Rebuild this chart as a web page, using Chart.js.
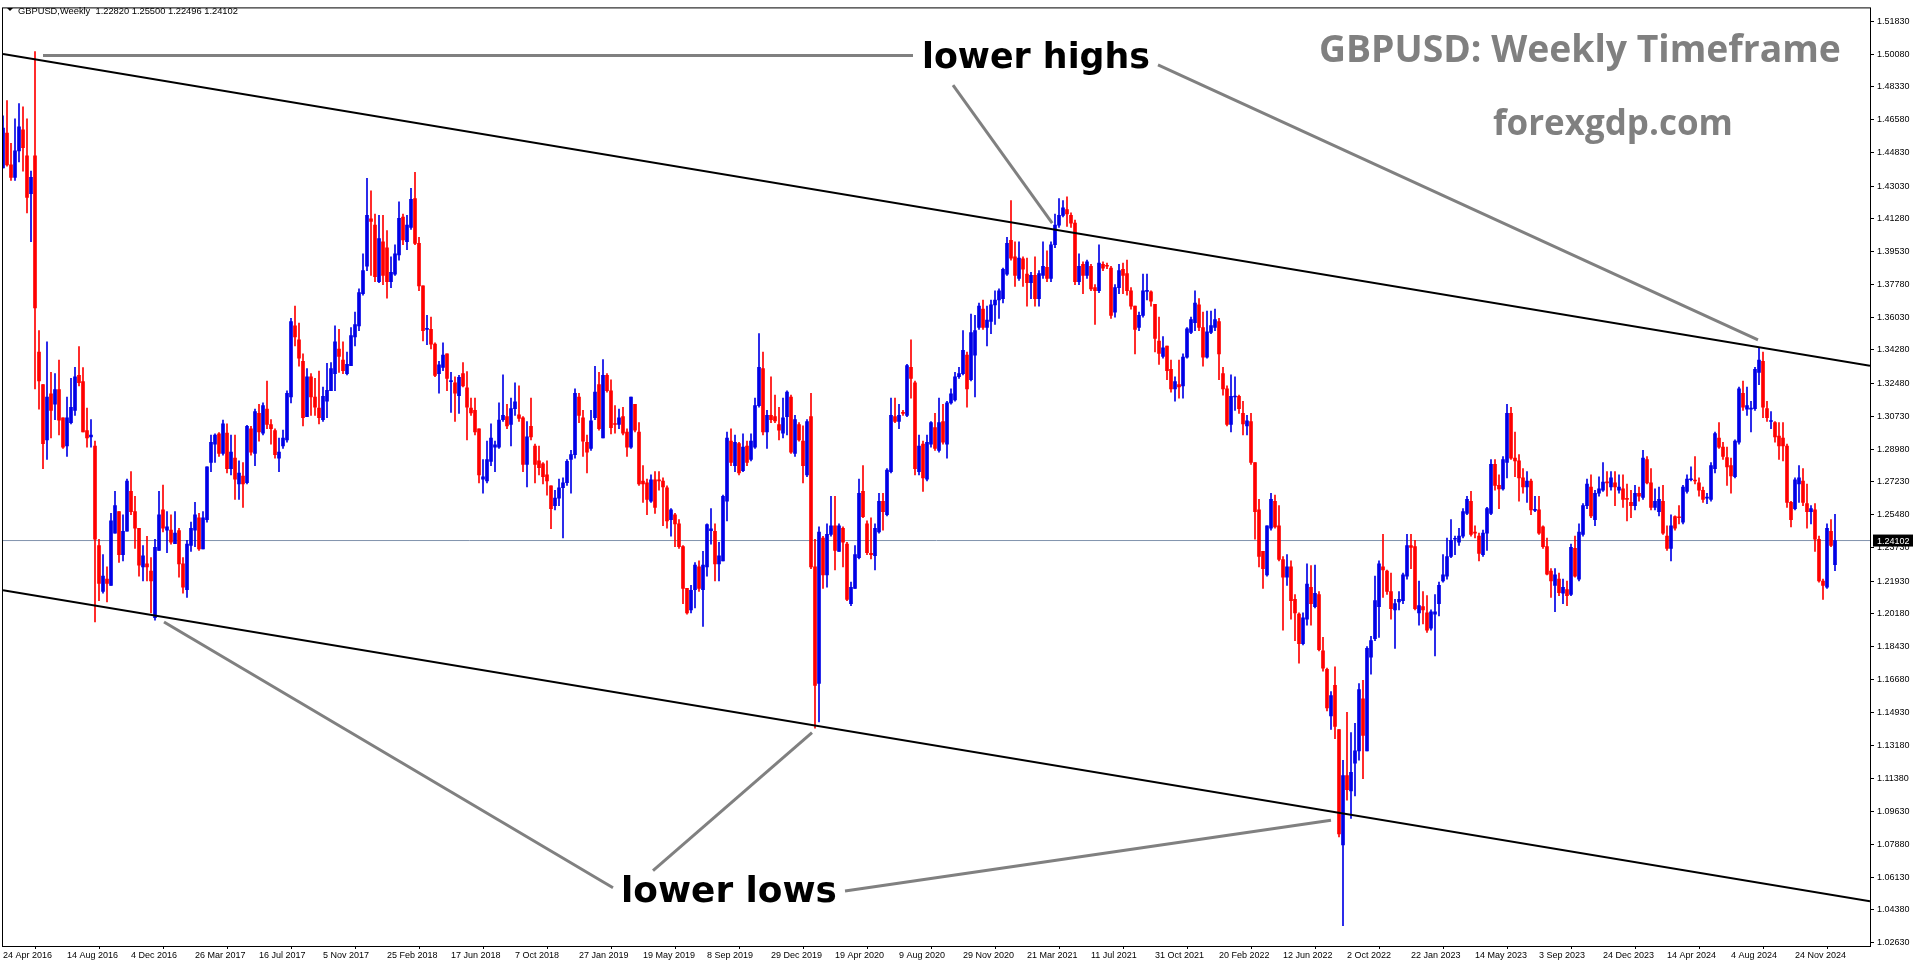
<!DOCTYPE html>
<html><head><meta charset="utf-8">
<script src="https://cdn.jsdelivr.net/npm/chart.js@4.4.1/dist/chart.umd.min.js"></script>
<style>html,body{margin:0;padding:0;background:#fff;overflow:hidden}</style>
</head><body>
<canvas id="c" width="1916" height="964"></canvas>
<script>
const O=[1.4400,1.4586,1.4416,1.4350,1.4491,1.4603,1.4465,1.4262,1.4465,1.3417,
1.3243,1.2948,1.3194,1.3138,1.3217,1.3066,1.2915,1.3040,1.3105,1.3292,
1.3259,1.2997,1.2964,1.2915,1.2384,1.2138,1.2204,1.2171,1.2450,1.2565,
1.2335,1.2460,1.2673,1.2565,1.2476,1.2270,1.2286,1.2247,1.1998,1.2358,
1.2574,1.2466,1.2466,1.2394,1.2463,1.2286,1.2148,1.2384,1.2466,1.2532,
1.2365,1.2522,1.2827,1.2925,1.2980,1.2876,1.2984,1.2794,1.2850,1.2712,
1.2755,1.2719,1.3007,1.2876,1.3089,1.2984,1.3112,1.3030,1.2997,1.2850,
1.2915,1.2948,1.3177,1.3557,1.3482,1.3367,1.3072,1.3285,1.3177,1.3118,
1.3056,1.3154,1.3210,1.3302,1.3433,1.3374,1.3302,1.3344,1.3498,1.3557,
1.3728,1.3875,1.4128,1.4095,1.3793,1.4006,1.3974,1.3793,1.3833,1.3935,
1.4138,1.4006,1.4082,1.4236,1.3997,1.3770,1.3538,1.3538,1.3459,1.3302,
1.3335,1.3407,1.3259,1.3253,1.3184,1.3302,1.3226,1.3118,1.3105,1.3007,
1.2738,1.2728,1.2833,1.2909,1.2909,1.3056,1.3072,1.3030,1.3115,1.3082,
1.3066,1.2817,1.3020,1.2915,1.2836,1.2820,1.2761,1.2702,1.2597,1.2637,
1.2692,1.2719,1.2843,1.2869,1.3177,1.3066,1.2935,1.2902,1.3066,1.3243,
1.2958,1.3292,1.3210,1.3033,1.3030,1.3072,1.2990,1.2909,1.3138,1.2990,
1.2728,1.2718,1.2620,1.2735,1.2735,1.2728,1.2692,1.2522,1.2548,1.2499,
1.2378,1.2155,1.2040,1.2148,1.2270,1.2148,1.2270,1.2463,1.2460,1.2286,
1.2302,1.2620,1.2941,1.2810,1.2928,1.2784,1.2915,1.2843,1.2909,1.3131,
1.3328,1.2990,1.3079,1.3072,1.3030,1.2984,1.3072,1.3177,1.2876,1.3030,
1.2941,1.2761,1.3072,1.2270,1.1647,1.2424,1.2227,1.2443,1.2489,1.2352,
1.2476,1.2391,1.2073,1.2155,1.2319,1.2673,1.2499,1.2342,1.2329,1.2456,
1.2620,1.2548,1.2778,1.3072,1.3046,1.3092,1.3079,1.3335,1.3253,1.2778,
1.2925,1.2738,1.2925,1.3013,1.2892,1.3046,1.2925,1.3145,1.3161,1.3285,
1.3302,1.3400,1.3269,1.3400,1.3548,1.3646,1.3548,1.3580,1.3669,1.3695,
1.3702,1.3833,1.4013,1.3925,1.3810,1.3915,1.3833,1.3787,1.3826,1.3702,
1.3826,1.3869,1.3810,1.3990,1.4095,1.4147,1.4177,1.4147,1.4105,1.3793,
1.3885,1.3826,1.3875,1.3761,1.3744,1.3885,1.3879,1.3865,1.3630,1.3761,
1.3859,1.3836,1.3744,1.3662,1.3548,1.3613,1.3741,1.3738,1.3672,1.3476,
1.3394,1.3449,1.3325,1.3220,1.3243,1.3236,1.3390,1.3521,1.3574,1.3669,
1.3548,1.3390,1.3521,1.3548,1.3580,1.3302,1.3220,1.3030,1.3177,1.3181,
1.3089,1.3023,1.3046,1.2827,1.2574,1.2352,1.2227,1.2476,1.2620,1.2489,
1.2309,1.2214,1.2270,1.2096,1.2017,1.1860,1.1991,1.2161,1.2057,1.2122,
1.1821,1.1723,1.1474,1.1637,1.1401,1.0785,1.1155,1.1073,1.1221,1.1287,
1.1565,1.1287,1.1788,1.1886,1.2057,1.2270,1.2247,1.2138,1.2040,1.2083,
1.2089,1.2220,1.2384,1.2378,1.2024,1.2057,1.2024,1.1942,1.2017,1.2073,
1.2194,1.2220,1.2325,1.2417,1.2401,1.2434,1.2555,1.2620,1.2453,1.2434,
1.2335,1.2450,1.2555,1.2817,1.2705,1.2686,1.2827,1.3089,1.2850,1.2836,
1.2745,1.2696,1.2728,1.2571,1.2574,1.2483,1.2378,1.2247,1.2171,1.2204,
1.2129,1.2148,1.2122,1.2368,1.2204,1.2443,1.2597,1.2696,1.2522,1.2663,
1.2679,1.2722,1.2696,1.2718,1.2679,1.2686,1.2633,1.2614,1.2597,1.2663,
1.2640,1.2843,1.2718,1.2587,1.2565,1.2620,1.2434,1.2368,1.2538,1.2535,
1.2509,1.2673,1.2735,1.2731,1.2718,1.2679,1.2637,1.2630,1.2794,1.2958,
1.2909,1.2853,1.2810,1.2751,1.2935,1.3197,1.3112,1.3112,1.3115,1.3308,
1.3367,1.3115,1.3046,1.3040,1.2968,1.2958,1.2915,1.2614,1.2581,1.2712,
1.2728,1.2607,1.2565,1.2574,1.2417,1.2194,1.2161,1.2460,1.2282];
const C=[1.4613,1.4416,1.4350,1.4491,1.4619,1.4508,1.4242,1.4350,1.3652,1.3262,
1.2928,1.3177,1.3105,1.3217,1.3053,1.2909,1.3066,1.3122,1.3285,1.3253,
1.2990,1.2958,1.2974,1.2417,1.2181,1.2220,1.2181,1.2515,1.2597,1.2335,
1.2460,1.2728,1.2565,1.2476,1.2279,1.2329,1.2270,1.2194,1.2374,1.2548,
1.2476,1.2483,1.2401,1.2450,1.2286,1.2161,1.2391,1.2476,1.2548,1.2365,
1.2532,1.2804,1.2935,1.2974,1.2876,1.3033,1.2794,1.2882,1.2738,1.2771,
1.2712,1.3020,1.2882,1.3099,1.2990,1.3131,1.3030,1.3007,1.2869,1.2882,
1.2958,1.3197,1.3580,1.3498,1.3384,1.3066,1.3285,1.3177,1.3122,1.3066,
1.3181,1.3213,1.3328,1.3472,1.3394,1.3318,1.3351,1.3505,1.3564,1.3734,
1.3852,1.4147,1.4115,1.3820,1.4023,1.3826,1.3793,1.3843,1.3941,1.4131,
1.4016,1.4095,1.4233,1.3997,1.3770,1.3531,1.3541,1.3459,1.3292,1.3348,
1.3400,1.3276,1.3262,1.3197,1.3282,1.3236,1.3122,1.3092,1.2990,1.2761,
1.2751,1.2843,1.2958,1.2922,1.3053,1.3079,1.3023,1.3115,1.3151,1.3063,
1.2817,1.2964,1.2964,1.2817,1.2800,1.2751,1.2728,1.2581,1.2637,1.2692,
1.2719,1.2833,1.2869,1.3197,1.3079,1.2941,1.2882,1.3049,1.3203,1.3007,
1.3292,1.3210,1.3013,1.3030,1.3066,1.2984,1.2909,1.3177,1.3000,1.2712,
1.2712,1.2630,1.2735,1.2587,1.2728,1.2696,1.2515,1.2574,1.2499,1.2378,
1.2155,1.2024,1.2145,1.2279,1.2155,1.2279,1.2496,1.2473,1.2286,1.2329,
1.2647,1.2958,1.2827,1.2935,1.2771,1.2909,1.2827,1.2941,1.3131,1.3335,
1.2990,1.3079,1.3056,1.3049,1.3000,1.3066,1.3203,1.2882,1.3056,1.2948,
1.2810,1.3046,1.2270,1.1637,1.2456,1.2227,1.2443,1.2489,1.2358,1.2489,
1.2401,1.2096,1.2161,1.2335,1.2663,1.2538,1.2345,1.2335,1.2476,1.2620,
1.2565,1.2787,1.3079,1.3046,1.3079,1.3089,1.3345,1.3276,1.2794,1.2915,
1.2745,1.2935,1.3040,1.2902,1.3040,1.2935,1.3145,1.3194,1.3285,1.3302,
1.3426,1.3220,1.3521,1.3531,1.3662,1.3548,1.3587,1.3669,1.3695,1.3744,
1.3859,1.3997,1.3918,1.3826,1.3918,1.3859,1.3787,1.3826,1.3702,1.3836,
1.3875,1.3810,1.3990,1.4095,1.4147,1.4187,1.4154,1.4105,1.3793,1.3875,
1.3826,1.3898,1.3754,1.3744,1.3892,1.3865,1.3875,1.3613,1.3761,1.3852,
1.3826,1.3744,1.3662,1.3538,1.3613,1.3744,1.3744,1.3688,1.3489,1.3410,
1.3440,1.3318,1.3220,1.3259,1.3230,1.3390,1.3541,1.3590,1.3679,1.3548,
1.3390,1.3525,1.3558,1.3590,1.3407,1.3220,1.3030,1.3181,1.3181,1.3115,
1.3033,1.3049,1.2827,1.2565,1.2325,1.2260,1.2489,1.2630,1.2483,1.2309,
1.2214,1.2270,1.2089,1.2024,1.1860,1.1998,1.2178,1.2073,1.2129,1.1827,
1.1729,1.1516,1.1582,1.1418,1.0844,1.1155,1.1080,1.1172,1.1287,1.1614,
1.1369,1.1834,1.1876,1.2089,1.2286,1.2253,1.2138,1.2047,1.2073,1.2096,
1.2227,1.2384,1.2374,1.2047,1.2063,1.2040,1.1932,1.2030,1.2030,1.2171,
1.2227,1.2325,1.2411,1.2417,1.2434,1.2565,1.2630,1.2443,1.2450,1.2342,
1.2450,1.2581,1.2817,1.2705,1.2686,1.2843,1.3089,1.2850,1.2836,1.2745,
1.2696,1.2728,1.2574,1.2574,1.2450,1.2378,1.2230,1.2194,1.2227,1.2132,
1.2161,1.2116,1.2374,1.2220,1.2456,1.2597,1.2712,1.2542,1.2663,1.2686,
1.2722,1.2718,1.2745,1.2696,1.2696,1.2630,1.2630,1.2597,1.2663,1.2647,
1.2850,1.2718,1.2587,1.2620,1.2630,1.2450,1.2368,1.2489,1.2476,1.2532,
1.2696,1.2738,1.2738,1.2728,1.2679,1.2630,1.2640,1.2810,1.2981,1.2909,
1.2860,1.2804,1.2755,1.2941,1.3220,1.3122,1.3131,1.3115,1.3325,1.3374,
1.3122,1.3066,1.3049,1.2964,1.2915,1.2915,1.2614,1.2522,1.2735,1.2745,
1.2614,1.2565,1.2581,1.2417,1.2194,1.2171,1.2476,1.2384,1.2410];
const H=[1.4678,1.4760,1.4531,1.4662,1.4744,1.4727,1.4662,1.4383,1.5022,1.3531,
1.3243,1.3472,1.3308,1.3302,1.3374,1.3066,1.3177,1.3276,1.3335,1.3446,
1.3334,1.3118,1.3056,1.2941,1.2417,1.2335,1.2270,1.2555,1.2673,1.2565,
1.2548,1.2738,1.2778,1.2647,1.2476,1.2384,1.2433,1.2319,1.2417,1.2673,
1.2706,1.2565,1.2548,1.2565,1.2476,1.2319,1.2411,1.2509,1.2614,1.2555,
1.2565,1.2804,1.2974,1.2980,1.2987,1.3053,1.3033,1.2974,1.2974,1.2836,
1.2827,1.3026,1.3020,1.3112,1.3138,1.3145,1.3262,1.3056,1.3007,1.2958,
1.3000,1.3210,1.3597,1.3662,1.3571,1.3407,1.3328,1.3302,1.3276,1.3315,
1.3230,1.3357,1.3361,1.3557,1.3538,1.3472,1.3417,1.3548,1.3630,1.3754,
1.3941,1.4344,1.4278,1.4154,1.4147,1.4147,1.4065,1.3925,1.3990,1.4219,
1.4154,1.4147,1.4291,1.4377,1.4029,1.3770,1.3613,1.3603,1.3466,1.3367,
1.3466,1.3407,1.3308,1.3285,1.3292,1.3361,1.3312,1.3171,1.3171,1.3007,
1.2843,1.2941,1.3033,1.2941,1.3145,1.3295,1.3138,1.3171,1.3253,1.3236,
1.3072,1.3046,1.3171,1.2925,1.2915,1.2827,1.2836,1.2702,1.2679,1.2738,
1.2745,1.2843,1.2892,1.3220,1.3197,1.3105,1.2974,1.3105,1.3341,1.3308,
1.3377,1.3302,1.3269,1.3131,1.3112,1.3122,1.3007,1.3177,1.3138,1.3040,
1.2810,1.2738,1.2761,1.2778,1.2778,1.2745,1.2702,1.2581,1.2555,1.2522,
1.2384,1.2155,1.2171,1.2293,1.2302,1.2352,1.2499,1.2581,1.2499,1.2401,
1.2653,1.2990,1.3007,1.2974,1.2935,1.2980,1.2941,1.2980,1.3171,1.3515,
1.3417,1.3105,1.3285,1.3187,1.3122,1.3171,1.3210,1.3187,1.3079,1.3040,
1.3023,1.3056,1.3197,1.2417,1.2483,1.2433,1.2499,1.2647,1.2647,1.2499,
1.2483,1.2401,1.2188,1.2384,1.2738,1.2810,1.2515,1.2532,1.2499,1.2663,
1.2663,1.2794,1.3171,1.3171,1.3138,1.3105,1.3351,1.3482,1.3262,1.2974,
1.2941,1.2974,1.3046,1.3089,1.3171,1.3138,1.3154,1.3220,1.3308,1.3335,
1.3531,1.3417,1.3620,1.3613,1.3679,1.3695,1.3662,1.3695,1.3744,1.3754,
1.3865,1.4029,1.4226,1.4006,1.4006,1.3925,1.3918,1.3843,1.3925,1.3852,
1.4006,1.3958,1.4006,1.4154,1.4236,1.4226,1.4246,1.4160,1.4121,1.3941,
1.3898,1.3908,1.3885,1.3777,1.3990,1.3898,1.3892,1.3875,1.3777,1.3885,
1.3892,1.3908,1.3761,1.3662,1.3630,1.3833,1.3833,1.3744,1.3672,1.3603,
1.3499,1.3449,1.3374,1.3285,1.3374,1.3407,1.3548,1.3603,1.3744,1.3702,
1.3630,1.3636,1.3636,1.3646,1.3597,1.3335,1.3236,1.3295,1.3285,1.3187,
1.3154,1.3079,1.3089,1.2827,1.2630,1.2352,1.2489,1.2663,1.2653,1.2597,
1.2325,1.2335,1.2302,1.2122,1.2024,1.2024,1.2286,1.2276,1.2279,1.2138,
1.1893,1.1729,1.1604,1.1736,1.1401,1.1237,1.1493,1.1385,1.1434,1.1647,
1.1664,1.1844,1.1899,1.2220,1.2302,1.2443,1.2253,1.2237,1.2096,1.2138,
1.2237,1.2443,1.2443,1.2411,1.2194,1.2138,1.2116,1.2040,1.2122,1.2188,
1.2335,1.2424,1.2522,1.2434,1.2476,1.2581,1.2647,1.2673,1.2489,1.2450,
1.2466,1.2587,1.2843,1.2843,1.2761,1.2859,1.3138,1.3122,1.2990,1.2869,
1.2794,1.2778,1.2738,1.2647,1.2647,1.2489,1.2424,1.2260,1.2260,1.2237,
1.2204,1.2194,1.2391,1.2434,1.2499,1.2607,1.2738,1.2761,1.2679,1.2751,
1.2827,1.2778,1.2778,1.2778,1.2761,1.2761,1.2712,1.2679,1.2705,1.2696,
1.2892,1.2859,1.2794,1.2686,1.2696,1.2705,1.2489,1.2548,1.2542,1.2597,
1.2705,1.2761,1.2804,1.2859,1.2745,1.2696,1.2663,1.2827,1.2990,1.3040,
1.2935,1.2909,1.2850,1.2948,1.3230,1.3262,1.3230,1.3154,1.3335,1.3439,
1.3417,1.3154,1.3099,1.3046,1.3040,1.3040,1.2925,1.2620,1.2745,1.2810,
1.2794,1.2712,1.2597,1.2607,1.2434,1.2204,1.2499,1.2522,1.2550];
const L=[1.4400,1.4409,1.4334,1.4334,1.4432,1.4383,1.4160,1.4006,1.3220,1.3112,
1.2794,1.2843,1.2958,1.3056,1.2974,1.2902,1.2859,1.3033,1.3079,1.3236,
1.2990,1.2909,1.2909,1.1975,1.2089,1.2129,1.2083,1.2171,1.2450,1.2293,
1.2302,1.2460,1.2548,1.2368,1.2220,1.2194,1.2194,1.2024,1.1985,1.2358,
1.2456,1.2345,1.2391,1.2394,1.2214,1.2129,1.2106,1.2352,1.2378,1.2358,
1.2365,1.2509,1.2778,1.2827,1.2860,1.2866,1.2771,1.2761,1.2630,1.2630,
1.2587,1.2712,1.2866,1.2810,1.2941,1.2974,1.3007,1.2925,1.2850,1.2778,
1.2902,1.2935,1.3145,1.3449,1.3341,1.3023,1.3072,1.3079,1.3079,1.3033,
1.3046,1.3066,1.3210,1.3210,1.3308,1.3302,1.3295,1.3344,1.3449,1.3531,
1.3721,1.3852,1.3826,1.3793,1.3787,1.3777,1.3705,1.3761,1.3826,1.3908,
1.3990,1.3964,1.4072,1.3990,1.3744,1.3476,1.3456,1.3433,1.3285,1.3197,
1.3318,1.3210,1.3095,1.3046,1.3089,1.3230,1.2948,1.3079,1.2974,1.2718,
1.2663,1.2718,1.2810,1.2778,1.2902,1.3046,1.3007,1.2915,1.3079,1.3046,
1.2778,1.2696,1.2948,1.2718,1.2761,1.2712,1.2653,1.2473,1.2574,1.2597,
1.2424,1.2705,1.2663,1.2850,1.3040,1.2860,1.2771,1.2892,1.3056,1.3000,
1.2958,1.3203,1.2980,1.2984,1.3007,1.2974,1.2860,1.2902,1.2990,1.2705,
1.2614,1.2548,1.2614,1.2555,1.2679,1.2489,1.2476,1.2433,1.2378,1.2368,
1.2073,1.2017,1.2024,1.2050,1.2138,1.1952,1.2220,1.2391,1.2194,1.2194,
1.2302,1.2515,1.2810,1.2778,1.2761,1.2778,1.2810,1.2836,1.2902,1.3122,
1.2974,1.2902,1.3040,1.3040,1.2948,1.2958,1.2974,1.2876,1.2860,1.2941,
1.2718,1.2751,1.2260,1.1408,1.1441,1.2155,1.2161,1.2433,1.2253,1.2352,
1.2270,1.2089,1.2063,1.2155,1.2312,1.2532,1.2335,1.2312,1.2253,1.2450,
1.2466,1.2542,1.2771,1.3040,1.3007,1.3079,1.3072,1.3171,1.2761,1.2761,
1.2673,1.2728,1.2909,1.2892,1.2882,1.2925,1.2850,1.3138,1.3154,1.3276,
1.3295,1.3122,1.3262,1.3177,1.3538,1.3538,1.3449,1.3515,1.3564,1.3597,
1.3679,1.3826,1.3908,1.3767,1.3800,1.3767,1.3662,1.3702,1.3662,1.3662,
1.3810,1.3793,1.3793,1.3974,1.4082,1.4138,1.4088,1.4082,1.3777,1.3777,
1.3728,1.3810,1.3744,1.3564,1.3734,1.3852,1.3862,1.3597,1.3603,1.3728,
1.3728,1.3721,1.3646,1.3407,1.3531,1.3603,1.3695,1.3662,1.3417,1.3351,
1.3384,1.3269,1.3203,1.3154,1.3171,1.3171,1.3384,1.3515,1.3531,1.3531,
1.3341,1.3384,1.3515,1.3531,1.3269,1.3187,1.3023,1.2990,1.3105,1.3089,
1.2974,1.2974,1.2817,1.2417,1.2270,1.2155,1.2220,1.2466,1.2476,1.2302,
1.1932,1.2171,1.1991,1.1876,1.1755,1.1853,1.1958,1.1958,1.2050,1.1821,
1.1713,1.1500,1.1401,1.1352,1.0828,1.0353,1.1024,1.0926,1.1047,1.1237,
1.1139,1.1287,1.1696,1.1876,1.1893,1.2106,1.2122,1.1991,1.1834,1.2040,
1.2073,1.2204,1.2260,1.2040,1.1958,1.1965,1.1919,1.1932,1.1794,1.2008,
1.2188,1.2204,1.2319,1.2335,1.2384,1.2424,1.2548,1.2434,1.2424,1.2302,
1.2325,1.2358,1.2548,1.2679,1.2581,1.2679,1.2745,1.2843,1.2751,1.2620,
1.2663,1.2614,1.2548,1.2565,1.2443,1.2368,1.2227,1.2106,1.2030,1.2116,
1.2073,1.2063,1.2116,1.2214,1.2194,1.2433,1.2581,1.2532,1.2489,1.2647,
1.2673,1.2647,1.2679,1.2597,1.2663,1.2587,1.2515,1.2532,1.2574,1.2620,
1.2630,1.2712,1.2574,1.2574,1.2542,1.2443,1.2358,1.2302,1.2466,1.2499,
1.2499,1.2663,1.2728,1.2712,1.2647,1.2614,1.2607,1.2620,1.2771,1.2902,
1.2843,1.2705,1.2663,1.2745,1.2925,1.3105,1.3079,1.2990,1.3105,1.3243,
1.3066,1.3046,1.3007,1.2935,1.2843,1.2836,1.2587,1.2483,1.2574,1.2614,
1.2597,1.2476,1.2499,1.2352,1.2188,1.2096,1.2155,1.2378,1.2250];

const yTickLabels=[1.51830,1.50080,1.48330,1.46580,1.44830,1.43030,1.41280,1.39530,1.37780,1.36030,1.34280,1.32480,1.30730,1.28980,1.27230,1.25480,1.23730,1.21930,1.20180,1.18430,1.16680,1.14930,1.13180,1.11380,1.09630,1.07880,1.06130,1.04380,1.02630];
const dateLabels=["24 Apr 2016","14 Aug 2016","4 Dec 2016","26 Mar 2017","16 Jul 2017","5 Nov 2017","25 Feb 2018","17 Jun 2018","7 Oct 2018","27 Jan 2019","19 May 2019","8 Sep 2019","29 Dec 2019","19 Apr 2020","9 Aug 2020","29 Nov 2020","21 Mar 2021","11 Jul 2021","31 Oct 2021","20 Feb 2022","12 Jun 2022","2 Oct 2022","22 Jan 2023","14 May 2023","3 Sep 2023","24 Dec 2023","14 Apr 2024","4 Aug 2024","24 Nov 2024"];
const dateWeekStep=16;
const lastPrice=1.24102;
const upperChannel=[{x:0,y:1.5009},{x:466.75,y:1.3344}];
const lowerChannel=[{x:0,y:1.2145},{x:466.75,y:1.0484}];
const pointerLines=[
 [{x:10,y:1.5000},{x:227.5,y:1.5000}],
 [{x:237.5,y:1.4842},{x:262.3,y:1.4105}],
 [{x:288.75,y:1.4950},{x:438.75,y:1.3482}],
 [{x:40.25,y:1.1975},{x:152.5,y:1.0556}],
 [{x:162.5,y:1.0647},{x:202.25,y:1.1385}],
 [{x:210.5,y:1.0539},{x:332,y:1.0916}]
];

const BLUE='#0000e6', RED='#ff0000';
const col=i=>C[i]>=O[i]?BLUE:RED;
const bodies=O.map((o,i)=>({x:i,y:[o,C[i]]}));
const wicks=O.map((o,i)=>({x:i,y:[Math.min(L[i],o,C[i]),Math.max(H[i],o,C[i])]}));
const XMAX=466.75;

const datasets=[
 {type:'line',data:[{x:0,y:lastPrice},{x:XMAX,y:lastPrice}],borderColor:'#8193ad',borderWidth:1,pointRadius:0,order:5},
 {type:'bar',data:wicks,backgroundColor:c=>col(c.dataIndex),barThickness:1,grouped:false,order:4,borderWidth:0},
 {type:'bar',data:bodies,backgroundColor:c=>col(c.dataIndex),barThickness:3,grouped:false,minBarLength:1,order:3,borderWidth:0},
 {type:'line',data:upperChannel,borderColor:'#000',borderWidth:2,pointRadius:0,order:1},
 {type:'line',data:lowerChannel,borderColor:'#000',borderWidth:2,pointRadius:0,order:1},
 ...pointerLines.map(p=>({type:'line',data:p,borderColor:'#808080',borderWidth:3,pointRadius:0,order:0}))
];

function fitText(ctx,t,fam,wt,left,base,w,color){
  ctx.font=`${wt} 40px ${fam}`;
  const m=ctx.measureText(t).width;
  const s=40*w/m;
  ctx.font=`${wt} ${s.toFixed(2)}px ${fam}`;
  ctx.fillStyle=color;ctx.textAlign='left';ctx.textBaseline='alphabetic';
  ctx.fillText(t,left,base);
}
const overlay={id:'overlay',afterDraw(ch){
  const ctx=ch.ctx,a=ch.chartArea;
  ctx.save();
  ctx.strokeStyle='#000';ctx.lineWidth=1;
  ctx.strokeRect(a.left-0.5,a.top-0.5,a.right-a.left+1,a.bottom-a.top+1);
  fitText(ctx,'lower highs','"DejaVu Sans"','bold',922,68,228,'#000');
  fitText(ctx,'lower lows','"DejaVu Sans"','bold',621,902,216,'#000');
  fitText(ctx,'GBPUSD: Weekly Timeframe','"Open Sans"','bold',1319,62,522,'#808080');
  fitText(ctx,'forexgdp.com','"Open Sans"','bold',1493,135,240,'#808080');
  fitText(ctx,'GBPUSD,Weekly  1.22820 1.25500 1.22496 1.24102','"Liberation Sans"','normal',18,14,220,'#000');
  ctx.fillStyle='#000';ctx.beginPath();ctx.moveTo(7,8);ctx.lineTo(13,8);ctx.lineTo(10,11);ctx.closePath();ctx.fill();
  const y=ch.scales.y.getPixelForValue(lastPrice);
  ctx.fillStyle='#000';ctx.fillRect(a.right+3,y-6,40,12);
  ctx.fillStyle='#fff';ctx.font='9px "Liberation Sans"';ctx.textBaseline='middle';ctx.textAlign='left';
  ctx.fillText('1.24102',a.right+7,y+0.5);
  ctx.restore();
}};

new Chart(document.getElementById('c'),{
 data:{datasets},
 options:{responsive:false,animation:false,devicePixelRatio:1,
  layout:{padding:{left:3,top:3,right:0,bottom:0}},
  plugins:{legend:{display:false},tooltip:{enabled:false}},
  scales:{
   x:{type:'linear',min:0,max:XMAX,offset:false,
     afterBuildTicks:s=>{s.ticks=dateLabels.map((d,k)=>({value:k*dateWeekStep}));},
     afterFit:s=>{s.height=18;},
     ticks:{autoSkip:false,maxRotation:0,align:'start',padding:1,color:'#000',font:{family:'Liberation Sans',size:9},
       callback:(v,k)=>dateLabels[k]},
     grid:{drawOnChartArea:false,drawTicks:true,tickLength:3,color:'#000'},
     border:{display:true,color:'#000'}},
   y:{type:'linear',position:'right',min:1.0245,max:1.5252,
     afterBuildTicks:s=>{s.ticks=yTickLabels.map(v=>({value:v}));},
     afterFit:s=>{s.width=46;},
     ticks:{padding:3,color:'#000',font:{family:'Liberation Sans',size:9},callback:v=>v.toFixed(5)},
     grid:{drawOnChartArea:false,drawTicks:true,tickLength:4,color:'#000'},
     border:{display:true,color:'#000'}}
  }},
 plugins:[overlay]
});
</script>
</body></html>
